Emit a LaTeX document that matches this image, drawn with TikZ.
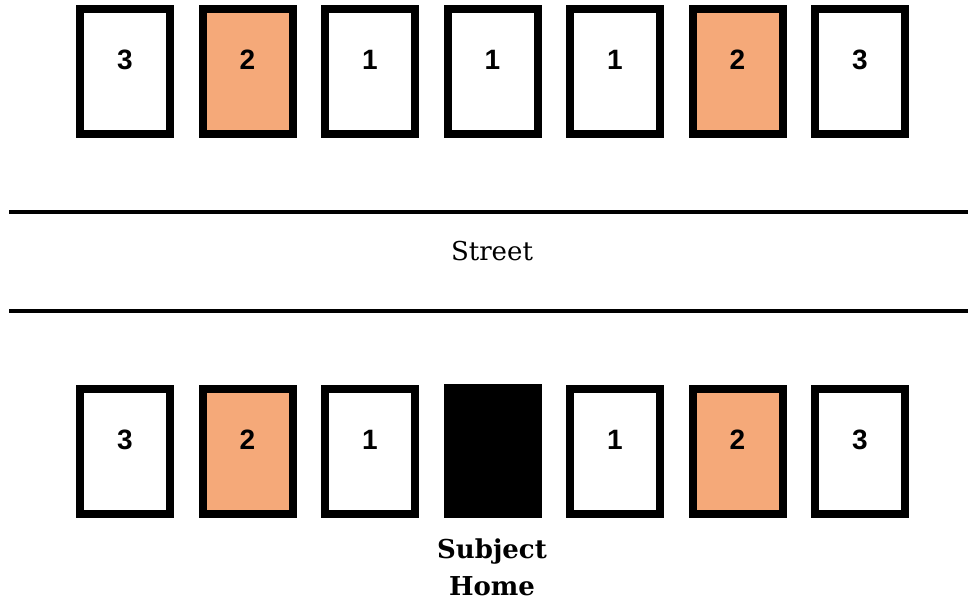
\documentclass[tikz,border=0pt]{standalone}
\usepackage{fontspec}
\setmainfont{DejaVu Serif}
\newfontfamily\numfont{Liberation Sans}
\definecolor{lot}{RGB}{245,169,121}
\begin{document}
\begin{tikzpicture}[x=1pt,y=-1pt,
  lotbox/.style={draw=black,line width=8pt,minimum width=90pt,minimum height=125pt,inner sep=0pt},
  numtext/.style={font=\numfont\bfseries\fontsize{28}{28}\selectfont,inner sep=0pt},
  street/.style={line width=4.5pt}]
\useasboundingbox (0,0) rectangle (968,605);
% top row
\foreach \i/\n/\c in {1/3/white,2/2/lot,3/1/white,4/1/white,5/1/white,6/2/lot,7/3/white}{
  \node[lotbox,fill=\c] (t\i) at ({125+122.5*(\i-1)},71) {};
  \node[numtext] (tn\i) at ({125+122.5*(\i-1)},60) {\n};
}
% bottom row
\foreach \i/\n/\c in {1/3/white,2/2/lot,3/1/white,5/1/white,6/2/lot,7/3/white}{
  \node[lotbox,fill=\c] (b\i) at ({125+122.5*(\i-1)},451) {};
  \node[numtext] (bn\i) at ({125+122.5*(\i-1)},440) {\n};
}
\node[draw=none,fill=black,minimum width=98pt,minimum height=134pt,inner sep=0pt] (b4) at (492.5,451) {};
% street
\coordinate (l1a) at (9,212);
\coordinate (l1b) at (968,212);
\coordinate (l2a) at (9,311);
\coordinate (l2b) at (968,311);
\draw[street] (l1a) -- (l1b);
\draw[street] (l2a) -- (l2b);
\node[font=\fontsize{26}{26}\selectfont,inner sep=0pt] (st) at (492,251) {Street};
\node[font=\bfseries\fontsize{26}{37}\selectfont,align=center,inner sep=0pt,anchor=north] (sh) at (492,539) {Subject\\Home};
\end{tikzpicture}
\end{document}
